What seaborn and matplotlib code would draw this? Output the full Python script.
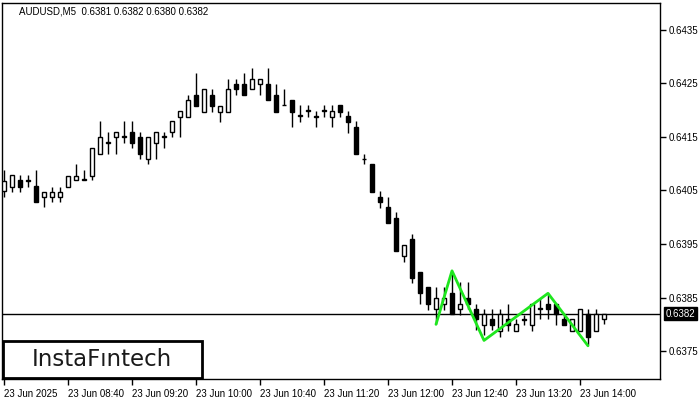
import matplotlib
matplotlib.use("Agg")
import matplotlib.pyplot as plt
import matplotlib.patches as patches
import seaborn as sns
import pandas as pd

# AUDUSD M5 candles, 08:00 .. 14:15
opens = [0.64049, 0.64057, 0.64070, 0.64068, 0.64058, 0.64038, 0.64038, 0.64038,
         0.64057, 0.64070, 0.64070, 0.64077, 0.64118, 0.64139, 0.64150, 0.64150,
         0.64159, 0.64150, 0.64109, 0.64139, 0.64150, 0.64159, 0.64187, 0.64187,
         0.64228, 0.64197, 0.64228, 0.64197, 0.64197, 0.64249, 0.64249, 0.64240,
         0.64249, 0.64249, 0.64228, 0.64210, 0.64219, 0.64189, 0.64199, 0.64189,
         0.64199, 0.64187, 0.64210, 0.64189, 0.64169, 0.64109, 0.64100, 0.64038,
         0.64019, 0.63999, 0.63928, 0.63959, 0.63898, 0.63870, 0.63829, 0.63838,
         0.63858, 0.63829, 0.63849, 0.63829, 0.63798, 0.63810, 0.63788, 0.63810,
         0.63788, 0.63810, 0.63798, 0.63829, 0.63838, 0.63838, 0.63810, 0.63788,
         0.63788, 0.63820, 0.63788, 0.63810]
highs = [0.64088, 0.64079, 0.64079, 0.64079, 0.64088, 0.64047, 0.64057, 0.64057,
         0.64077, 0.64100, 0.64088, 0.64129, 0.64180, 0.64159, 0.64159, 0.64180,
         0.64180, 0.64159, 0.64150, 0.64159, 0.64159, 0.64180, 0.64199, 0.64228,
         0.64270, 0.64240, 0.64240, 0.64208, 0.64258, 0.64258, 0.64270, 0.64279,
         0.64258, 0.64279, 0.64249, 0.64240, 0.64219, 0.64210, 0.64210, 0.64199,
         0.64210, 0.64210, 0.64210, 0.64199, 0.64180, 0.64118, 0.64100, 0.64049,
         0.64038, 0.64010, 0.63948, 0.63969, 0.63898, 0.63870, 0.63870, 0.63870,
         0.63898, 0.63879, 0.63879, 0.63838, 0.63829, 0.63829, 0.63829, 0.63838,
         0.63810, 0.63817, 0.63838, 0.63849, 0.63858, 0.63838, 0.63817, 0.63810,
         0.63829, 0.63829, 0.63829, 0.63820]
lows = [0.64038, 0.64047, 0.64047, 0.64057, 0.64029, 0.64019, 0.64029, 0.64029,
        0.64057, 0.64070, 0.64070, 0.64070, 0.64118, 0.64118, 0.64118, 0.64139,
        0.64129, 0.64109, 0.64100, 0.64109, 0.64129, 0.64150, 0.64150, 0.64187,
        0.64208, 0.64197, 0.64197, 0.64178, 0.64197, 0.64228, 0.64228, 0.64240,
        0.64228, 0.64219, 0.64197, 0.64210, 0.64169, 0.64178, 0.64187, 0.64169,
        0.64187, 0.64169, 0.64187, 0.64157, 0.64118, 0.64100, 0.64047, 0.64017,
        0.63989, 0.63937, 0.63916, 0.63877, 0.63838, 0.63827, 0.63800, 0.63827,
        0.63820, 0.63817, 0.63829, 0.63790, 0.63780, 0.63790, 0.63776, 0.63788,
        0.63788, 0.63798, 0.63788, 0.63810, 0.63810, 0.63798, 0.63798, 0.63788,
        0.63788, 0.63761, 0.63788, 0.63800]
closes = [0.64068, 0.64079, 0.64057, 0.64070, 0.64029, 0.64047, 0.64047, 0.64047,
          0.64077, 0.64077, 0.64071, 0.64129, 0.64150, 0.64140, 0.64159, 0.64151,
          0.64139, 0.64118, 0.64150, 0.64159, 0.64151, 0.64180, 0.64199, 0.64219,
          0.64208, 0.64240, 0.64208, 0.64208, 0.64240, 0.64240, 0.64228, 0.64258,
          0.64258, 0.64219, 0.64197, 0.64209, 0.64197, 0.64190, 0.64200, 0.64188,
          0.64200, 0.64199, 0.64197, 0.64178, 0.64118, 0.64108, 0.64047, 0.64029,
          0.63989, 0.63937, 0.63948, 0.63886, 0.63858, 0.63838, 0.63849, 0.63849,
          0.63820, 0.63838, 0.63838, 0.63810, 0.63820, 0.63798, 0.63820, 0.63798,
          0.63800, 0.63809, 0.63838, 0.63830, 0.63829, 0.63820, 0.63798, 0.63810,
          0.63829, 0.63776, 0.63820, 0.63820]

# pattern zigzag (bar index, price)
pattern_bars = [54, 56, 60, 68, 73]
pattern_prices = [0.63800, 0.63900, 0.63770, 0.63858, 0.63760]

price_ticks = [0.6375, 0.6385, 0.6395, 0.6405, 0.6415, 0.6425, 0.6435]
time_labels = ['23 Jun 2025', '23 Jun 08:40', '23 Jun 09:20', '23 Jun 10:00',
               '23 Jun 10:40', '23 Jun 11:20', '23 Jun 12:00', '23 Jun 12:40',
               '23 Jun 13:20', '23 Jun 14:00']
bid = 0.6382

df = pd.DataFrame({'open': opens, 'high': highs, 'low': lows, 'close': closes})
df['idx'] = range(len(df))

sns.set_theme(style="white")
plt.rcParams['font.family'] = ['Liberation Sans', 'DejaVu Sans']

fig = plt.figure(figsize=(7, 4), dpi=100)
ax = fig.add_axes([2 / 700, 21 / 400, 658 / 700, 376 / 400])

# wicks
ax.vlines(df['idx'], df['low'], df['high'], color='black', lw=1, zorder=2)

# bodies
bottoms = df[['open', 'close']].min(axis=1)
heights = (df['close'] - df['open']).abs()
fills = ['white' if c >= o else 'black' for o, c in zip(df['open'], df['close'])]
ax.bar(df['idx'], heights, bottom=bottoms, width=0.6, color=fills,
       edgecolor='black', linewidth=1, zorder=3)

ax.axhline(bid, color='black', lw=1, zorder=1)

sns.lineplot(x=pattern_bars, y=pattern_prices, sort=False, color='#1ee61e',
             lw=2, ax=ax, zorder=4)

ax.set_xlim(-0.25, 82)
ax.set_ylim(0.63698, 0.64400)

ax.yaxis.tick_right()
ax.set_yticks(price_ticks)
ax.set_yticklabels([f'{p:.4f}' for p in price_ticks])
ax.set_xticks(range(0, 8 * len(time_labels), 8))
ax.set_xticklabels(time_labels, ha='left')
ax.tick_params(axis='both', direction='out', length=4, width=1, color='black',
               labelsize=7, labelcolor='black', pad=2)
ax.tick_params(axis='x', pad=3)
ax.tick_params(axis='x', which='major', bottom=True)
ax.tick_params(axis='y', which='major', right=True)
for s in ax.spines.values():
    s.set_color('black')
    s.set_linewidth(1)
ax.set_xlabel('')
ax.set_ylabel('')

# current price tag
ax.annotate(f'{bid:.4f}', xy=(1.0, bid), xycoords=('axes fraction', 'data'),
            xytext=(4, 0), textcoords='offset points', va='center', ha='left',
            fontsize=7, color='white',
            bbox=dict(boxstyle='square,pad=0.15', fc='black', ec='black'))

fig.text(19 / 700, 1 - 11 / 400, 'AUDUSD,M5  0.6381 0.6382 0.6380 0.6382',
         fontsize=7, color='black', va='center', ha='left')

# logo box
fig.patches.append(patches.Rectangle((3 / 700, 22 / 400), 199 / 700, 37 / 400,
                                     transform=fig.transFigure, fc='white',
                                     ec='black', lw=2, zorder=5))
fig.text(102 / 700, 1 - 359 / 400, 'InstaFıntech', fontsize=16.5,
         family='DejaVu Sans', color='#1a1a1a',
         ha='center', va='center', zorder=6)

fig.savefig('out.png', dpi=100)
plt.close(fig)
